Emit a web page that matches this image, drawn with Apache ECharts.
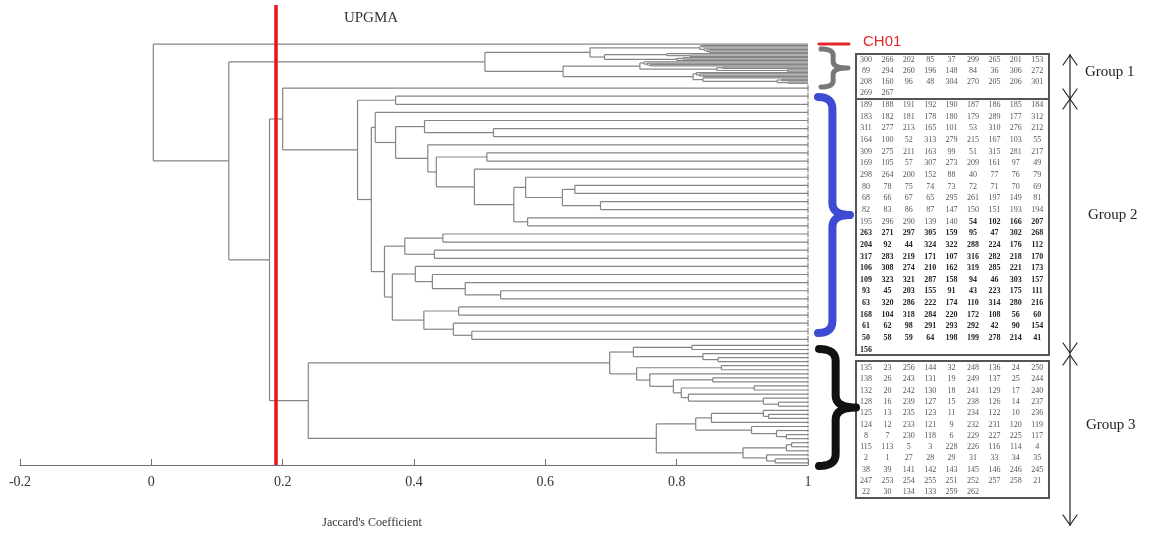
<!DOCTYPE html>
<html>
<head>
    <meta http-equiv="Content-Type" content="text/html; charset=utf-8" />
    <title>UPGMA dendrogram</title>
    <style type="text/css">
        * { margin: 0; padding: 0 }
        html, body { width: 100%; height: 100%; background: #fff; }
        #view { width: 1149px; height: 535px; }
    </style>
</head>
<body>
    <div id="view"></div>
    <script src="https://cdn.jsdelivr.net/npm/echarts@6/dist/echarts.min.js"></script>
    <script>
        // axis
        const xMin = -0.2, xMax = 1, xStep = 0.2;
        const cutoff = 0.19;

        // tree nodes: [similarity, upper child, lower child]; a leaf is the number of identical accessions
        const group1Tree = [0.508,
            [0.668,
                [0.835, [0.838, 1, 1], [0.842, 1, [0.846, 1, [0.85, 1, 1]]]],
                [0.690, [0.785, 1, [0.82, 1, 1]], [0.80, [0.81, 1, 1], 1]]],
            [0.627,
                [0.744, [0.75, 1, [0.755, 1, [0.76, 1, 1]]], [0.861, [0.87, 1, 1], [0.968, 1, 1]]],
                [0.825, [0.83, 1, [0.835, 1, [0.84, 1, 1]]], [0.84, 1, [0.953, [0.96, 1, 1], [0.97, 1, 1]]]]]];

        const group2Tree = [0.20, 6,
            [0.314,
                [0.372, 6, 6],
                [0.335,
                    [0.341, 6,
                        [0.372,
                            [0.416, 6, [0.521, 6, 6]],
                            [0.421, 6,
                                [0.434, [0.511, 6, 6],
                                    [0.492, 6,
                                        [0.552,
                                            [0.570, 6, [0.626, [0.645, 6, 6], [0.684, 6, 6]]],
                                            [0.573, 6, 6]]]]]]],
                    [0.355,
                        [0.386, [0.444, 6, 6], [0.431, 6, 6]],
                        [0.367,
                            [0.402, 6, [0.428, 6, [0.478, 6, [0.532, 6, 6]]]],
                            [0.415, [0.468, 6, 6], [0.46, 6, [0.488, 6, 6]]]]]]]];

        const group3Tree = [0.239,
            [0.698,
                [0.734, [0.823, 3, 3], [0.84, 3, [0.863, 3, 3]]],
                [0.739, [0.868, 3, 3],
                    [0.759, 3,
                        [0.795, [0.855, 3, 3],
                            [0.807, [0.918, 3, 3],
                                [0.818, 3, [0.932, 3, [0.955, 3, 3]]]]]]]],
            [0.769,
                [0.829, [0.853, [0.932, 3, [0.94, 3, 3]], 3], [0.914, 3, [0.952, 3, [0.967, 3, 3]]]],
                [0.901, [0.967, [0.975, 3, 3], 3], [0.937, 3, [0.95, 3, 3]]]]];

        // CH01 joins everything else at the root
        const rootTree = [0.003, 1, [0.118, group1Tree, [0.180, group2Tree, group3Tree]]];

        // accession numbers listed for each group
        const group1Ids = [300, 266, 202, 85, 37, 299, 265, 201, 153, 89, 294, 260, 196, 148, 84, 36, 306, 272,
            208, 160, 96, 48, 304, 270, 205, 206, 301, 269, 267];
        const group2Ids = [189, 188, 191, 192, 190, 187, 186, 185, 184, 183, 182, 181, 178, 180, 179, 289, 177, 312,
            311, 277, 213, 165, 101, 53, 310, 276, 212, 164, 100, 52, 313, 279, 215, 167, 103, 55,
            309, 275, 211, 163, 99, 51, 315, 281, 217, 169, 105, 57, 307, 273, 209, 161, 97, 49,
            298, 264, 200, 152, 88, 40, 77, 76, 79, 80, 78, 75, 74, 73, 72, 71, 70, 69,
            68, 66, 67, 65, 295, 261, 197, 149, 81, 82, 83, 86, 87, 147, 150, 151, 193, 194,
            195, 296, 290, 139, 140, 54, 102, 166, 207, 263, 271, 297, 305, 159, 95, 47, 302, 268,
            204, 92, 44, 324, 322, 288, 224, 176, 112, 317, 283, 219, 171, 107, 316, 282, 218, 170,
            106, 308, 274, 210, 162, 319, 285, 221, 173, 109, 323, 321, 287, 158, 94, 46, 303, 157,
            93, 45, 203, 155, 91, 43, 223, 175, 111, 63, 320, 286, 222, 174, 110, 314, 280, 216,
            168, 104, 318, 284, 220, 172, 108, 56, 60, 61, 62, 98, 291, 293, 292, 42, 90, 154,
            50, 58, 59, 64, 198, 199, 278, 214, 41, 156];
        const group2BoldFrom = 95;
        const group3Ids = [135, 23, 256, 144, 32, 248, 136, 24, 250, 138, 26, 243, 131, 19, 249, 137, 25, 244,
            132, 20, 242, 130, 18, 241, 129, 17, 240, 128, 16, 239, 127, 15, 238, 126, 14, 237,
            125, 13, 235, 123, 11, 234, 122, 10, 236, 124, 12, 233, 121, 9, 232, 231, 120, 119,
            8, 7, 230, 118, 6, 229, 227, 225, 117, 115, 113, 5, 3, 228, 226, 116, 114, 4,
            2, 1, 27, 28, 29, 31, 33, 34, 35, 38, 39, 141, 142, 143, 145, 146, 246, 245,
            247, 253, 254, 255, 251, 252, 257, 258, 21, 22, 30, 134, 133, 259, 262];
        const groupNames = ['Group 1', 'Group 2', 'Group 3'];
        const outlierName = 'CH01';

        // walk the tree: leaves stacked top to bottom, one unit per accession
        const segs = [];
        let cursor = 0;
        const place = (node) => {
            if (typeof node === 'number') {
                const top = cursor;
                cursor += node;
                if (node > 1) segs.push([1, top + 0.5, 1, top + node - 0.5]); // identical accessions
                return { x: 1, y: top + node / 2 };
            }
            const [s, a, b] = node;
            const A = place(a);
            const B = place(b);
            segs.push([s, A.y, s, B.y]);
            segs.push([s, A.y, A.x, A.y]);
            segs.push([s, B.y, B.x, B.y]);
            return { x: s, y: (A.y + B.y) / 2 };
        };
        place(rootTree);
        const totalUnits = cursor;

        // right-hand annotations
        const serif = '"Liberation Serif", "DejaVu Serif", serif';
        const graphic = [];
        const text = (x, y, str, font, fill, align) => {
            graphic.push({
                type: 'text', x: x, y: y, z: 10,
                style: { text: str, font: font, fill: fill, textAlign: align || 'center', textVerticalAlign: 'middle' }
            });
        };
        const line = (x1, y1, x2, y2, color, w) => {
            graphic.push({ type: 'line', z: 10, shape: { x1, y1, x2, y2 }, style: { stroke: color, lineWidth: w, lineCap: 'round' } });
        };
        // curly brace as a sampled polyline
        const brace = (x0, x1, y0, y1, color, w) => {
            const xm = x0 + (x1 - x0) * 0.45;
            const ym = (y0 + y1) / 2;
            const r = Math.min(12, (y1 - y0) / 6);
            const pts = [];
            const quad = (p0, c, p1) => {
                for (let t = 0; t <= 1.0001; t += 0.125) {
                    const u = 1 - t;
                    pts.push([u * u * p0[0] + 2 * u * t * c[0] + t * t * p1[0], u * u * p0[1] + 2 * u * t * c[1] + t * t * p1[1]]);
                }
            };
            quad([x0, y0], [xm, y0], [xm, y0 + r]);
            quad([xm, ym - r], [xm, ym], [x1, ym]);
            quad([x1, ym], [xm, ym], [xm, ym + r]);
            quad([xm, y1 - r], [xm, y1], [x0, y1]);
            graphic.push({ type: 'polyline', z: 10, shape: { points: pts }, style: { stroke: color, lineWidth: w, fill: null, lineCap: 'round', lineJoin: 'round' } });
        };
        const box = (y0, y1) => {
            graphic.push({ type: 'rect', z: 9, shape: { x: 856, y: y0, width: 193, height: y1 - y0 }, style: { fill: '#fff', stroke: '#555', lineWidth: 2 } });
        };
        const idGrid = (ids, y0, dy, boldFrom) => {
            ids.forEach((id, i) => {
                const bold = boldFrom !== undefined && i >= boldFrom;
                text(866 + (i % 9) * 21.4, y0 + Math.floor(i / 9) * dy, String(id),
                    (bold ? 'bold ' : '') + '8px ' + serif, bold ? '#222' : '#555');
            });
        };
        const arrow = (x, y0, y1) => {
            line(x, y0, x, y1, '#222', 1.2);
            line(x - 7, y0 + 10, x, y0, '#222', 1.2);
            line(x + 7, y0 + 10, x, y0, '#222', 1.2);
            line(x - 7, y1 - 10, x, y1, '#222', 1.2);
            line(x + 7, y1 - 10, x, y1, '#222', 1.2);
        };

        text(371, 18, 'UPGMA', '15px ' + serif, '#333');
        text(372, 523, "Jaccard's Coefficient", '12px ' + serif, '#333');

        line(819, 44, 849, 44, '#e4262b', 3);
        text(863, 42, outlierName, '15px "Liberation Sans", Arial, sans-serif', '#e4262b', 'left');

        brace(821, 848, 49, 87, '#777', 5);
        brace(818, 850, 97, 333, '#3d4bd4', 8);
        brace(819, 856, 349, 466, '#111', 8);

        box(54, 99);
        box(99, 355);
        box(361, 498);
        idGrid(group1Ids, 59.5, 11.3);
        idGrid(group2Ids, 105, 11.65, group2BoldFrom);
        idGrid(group3Ids, 368, 11.3);

        arrow(1070, 55, 99);
        arrow(1070, 99, 353);
        arrow(1070, 355, 525);
        text(1085, 72, groupNames[0], '15px ' + serif, '#222', 'left');
        text(1088, 215, groupNames[1], '15px ' + serif, '#222', 'left');
        text(1086, 425, groupNames[2], '15px ' + serif, '#222', 'left');

        const chart = echarts.init(document.getElementById('view'));
        chart.setOption({
            animation: false,
            backgroundColor: '#fff',
            grid: { left: 20, right: 341, top: 5, bottom: 70 },
            xAxis: {
                type: 'value', min: xMin, max: xMax, interval: xStep,
                axisLine: { onZero: false, lineStyle: { color: '#6e6e6e', width: 1.2 } },
                axisTick: { inside: true, length: 6, lineStyle: { color: '#6e6e6e' } },
                axisLabel: { color: '#333', fontFamily: serif, fontSize: 14, margin: 10 },
                splitLine: { show: false }
            },
            yAxis: { type: 'value', inverse: true, min: -28.5, max: totalUnits, show: false },
            series: [{
                type: 'custom',
                silent: true,
                data: segs,
                encode: { x: [0, 2], y: [1, 3] },
                renderItem: (params, api) => {
                    const p1 = api.coord([api.value(0), api.value(1)]);
                    const p2 = api.coord([api.value(2), api.value(3)]);
                    return {
                        type: 'line',
                        shape: { x1: p1[0], y1: p1[1], x2: p2[0], y2: p2[1] },
                        style: { stroke: '#858585', lineWidth: 1.2 }
                    };
                },
                markLine: {
                    silent: true, symbol: 'none', label: { show: false },
                    lineStyle: { color: '#e8141b', width: 3.5, type: 'solid' },
                    data: [{ xAxis: cutoff }]
                }
            }],
            graphic: graphic
        });
    </script>
</body>
</html>
